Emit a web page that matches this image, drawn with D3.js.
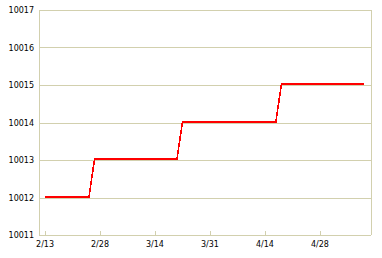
<!DOCTYPE html>
<html>
<head>
<meta charset="utf-8">
<script src="https://cdn.jsdelivr.net/npm/d3@7"></script>
<style>
  body { margin: 0; background: #fff; }
  svg text { font-family: Verdana, "DejaVu Sans", sans-serif; font-size: 8px; fill: #000; }
</style>
</head>
<body>
<div id="chart"></div>
<script>
// step series, one point per trading day
var stepStarts = [0, 9, 25, 43];           // index where each level begins
var stepLevels = [10012.02, 10013.02, 10014.02, 10015.02];
var pointCount = 59;
var tickIndex = [0, 10, 20, 30, 40, 50];
var tickLabels = ["2/13", "2/28", "3/14", "3/31", "4/14", "4/28"];
var yTicks = [10011, 10012, 10013, 10014, 10015, 10016, 10017];

var values = [];
for (var i = 0; i < pointCount; i++) {
  var lvl = 0;
  stepStarts.forEach(function (s, k) { if (i >= s) lvl = k; });
  values.push({ i: i, v: stepLevels[lvl] });
}

var margin = { top: 10, right: 11, bottom: 23, left: 39 },
    W = 382, H = 258,
    width = W - margin.left - margin.right,
    height = H - margin.top - margin.bottom;

var x = d3.scaleLinear().domain([-1.1, 59.3]).range([0, width]);
var y = d3.scaleLinear().domain([10011, 10017]).range([height, 0]);
var gridColor = "#d2d0ae";

var svg = d3.select("#chart").append("svg").attr("width", W).attr("height", H)
  .append("g").attr("transform", "translate(" + margin.left + "," + margin.top + ")");

// horizontal grid
svg.selectAll("line.grid").data(yTicks).enter().append("line")
  .attr("class", "grid")
  .attr("x1", 0).attr("x2", width)
  .attr("y1", function (d) { return Math.round(y(d)) + 0.5; })
  .attr("y2", function (d) { return Math.round(y(d)) + 0.5; })
  .attr("stroke", gridColor);

// frame sides
[0, width].forEach(function (px) {
  svg.append("line").attr("x1", px + 0.5).attr("x2", px + 0.5)
    .attr("y1", 0).attr("y2", height).attr("stroke", gridColor);
});

// x ticks (inward)
svg.selectAll("line.xt").data(tickIndex).enter().append("line")
  .attr("x1", function (d) { return Math.round(x(d)) + 0.5; })
  .attr("x2", function (d) { return Math.round(x(d)) + 0.5; })
  .attr("y1", height).attr("y2", height - 4)
  .attr("stroke", gridColor);

svg.selectAll("text.xl").data(tickIndex).enter().append("text")
  .attr("x", function (d) { return x(d); })
  .attr("y", height + 12)
  .attr("text-anchor", "middle")
  .text(function (d, k) { return tickLabels[k]; });

svg.selectAll("text.yl").data(yTicks).enter().append("text")
  .attr("x", -5)
  .attr("y", function (d) { return y(d) + 3; })
  .attr("text-anchor", "end")
  .text(function (d) { return d; });

var line = d3.line().x(function (d) { return x(d.i); }).y(function (d) { return y(d.v); });

svg.append("path").datum(values)
  .attr("d", line)
  .attr("fill", "none")
  .attr("stroke", "#ff0000")
  .attr("stroke-width", 1.6)
  .attr("shape-rendering", "crispEdges");
</script>
</body>
</html>
